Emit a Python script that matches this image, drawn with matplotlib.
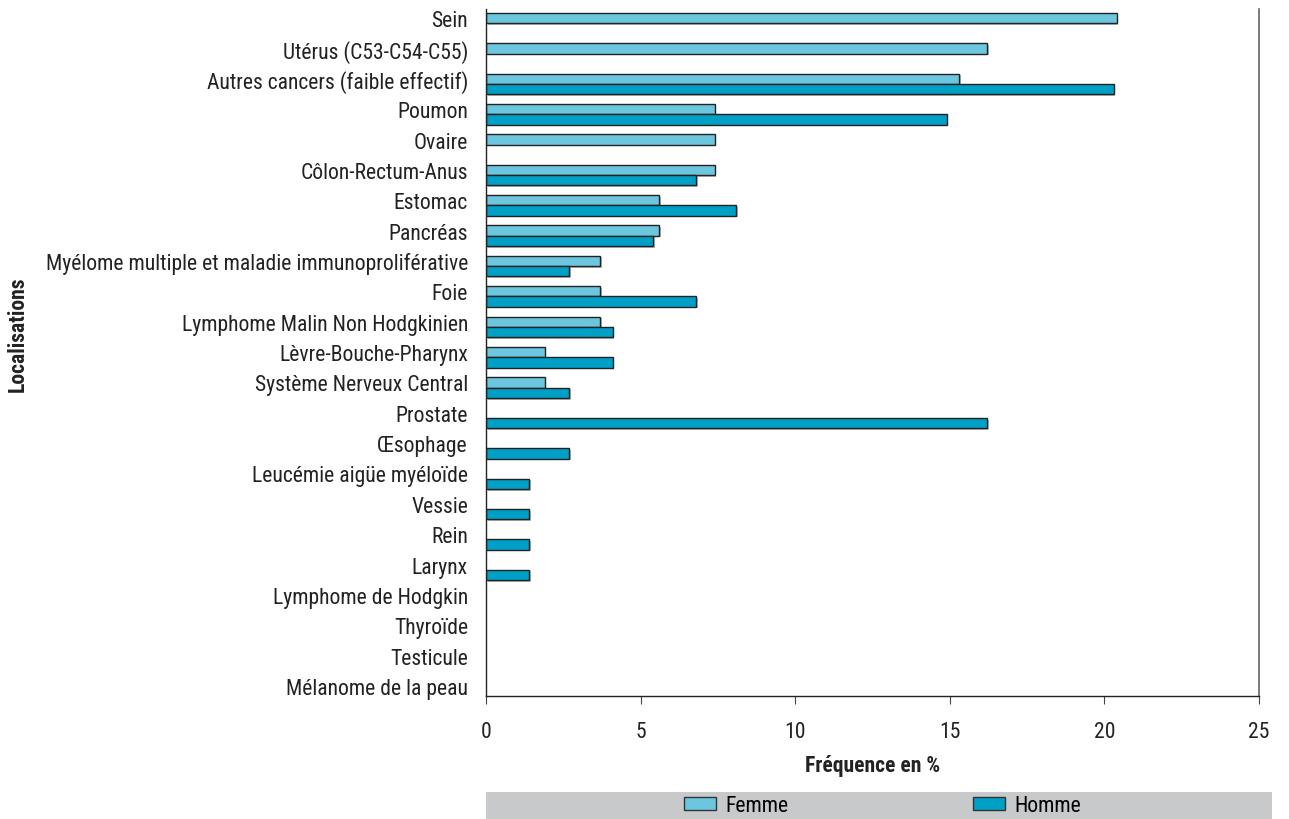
import matplotlib
matplotlib.use("Agg")
import matplotlib.pyplot as plt
import matplotlib.patheffects as pe
from matplotlib.patches import Rectangle, Patch
from matplotlib import font_manager as fm

names = {f.name for f in fm.fontManager.ttflist}
fam = "Liberation Sans"
for cand in ["Roboto Condensed", "Archivo Narrow", "PT Sans Narrow", "IBM Plex Sans Condensed",
             "Liberation Sans Narrow"]:
    if cand in names:
        fam = cand
        break
plt.rcParams['font.family'] = [fam, 'DejaVu Sans']

categories = [
    "Sein", "Utérus (C53-C54-C55)", "Autres cancers (faible effectif)", "Poumon",
    "Ovaire", "Côlon-Rectum-Anus", "Estomac", "Pancréas",
    "Myélome multiple et maladie immunoproliférative", "Foie",
    "Lymphome Malin Non Hodgkinien", "Lèvre-Bouche-Pharynx",
    "Système Nerveux Central", "Prostate", "Œsophage", "Leucémie aigüe myéloïde",
    "Vessie", "Rein", "Larynx", "Lymphome de Hodgkin", "Thyroïde", "Testicule",
    "Mélanome de la peau",
]
femme = [20.4, 16.2, 15.3, 7.4, 7.4, 7.4, 5.6, 5.6, 3.7, 3.7, 3.7, 1.9, 1.9,
         None, None, None, None, None, None, None, None, None, None]
homme = [None, None, 20.3, 14.9, None, 6.8, 8.1, 5.4, 2.7, 6.8, 4.1, 4.1, 2.7,
         16.2, 2.7, 1.4, 1.4, 1.4, 1.4, None, None, None, None]
series_names = ["Femme", "Homme"]
colors = ["#6cc6de", "#00a0c6"]
xticks = [0, 5, 10, 15, 20, 25]

fig = plt.figure(figsize=(12.89, 8.20), dpi=100)

# fit font size so the longest label matches the reference width (~423 px)
renderer = fig.canvas.get_renderer()
probe = fig.text(0, 0, max(categories, key=len), fontsize=15)
w = probe.get_window_extent(renderer).width
probe.remove()
fs = max(12.0, min(17.5, 15 * 423 / w))
fs_px = fs * 100 / 72

ax = fig.add_axes([486/1289, 1 - 697/820, (1259 - 486)/1289, (697 - 10)/820])

h = 0.34
shadow = [pe.SimplePatchShadow(offset=(1.2, -1.2), shadow_rgbFace='#888888', alpha=0.6), pe.Normal()]
for i, (f, m) in enumerate(zip(femme, homme)):
    if f is not None:
        b = ax.barh(i, f, height=h, color=colors[0], edgecolor='#222222', linewidth=1.0)
        for p in b:
            p.set_path_effects(shadow)
    if m is not None:
        b = ax.barh(i + h, m, height=h, color=colors[1], edgecolor='#222222', linewidth=1.0)
        for p in b:
            p.set_path_effects(shadow)

ax.set_ylim(len(categories) - 1 + 0.33, -0.3)
ax.set_xlim(0, 25)
ax.set_yticks(range(len(categories)))
ax.set_yticklabels(categories, fontsize=fs, color='#222222')
ax.tick_params(axis='y', length=0, pad=13)
ax.set_xticks(xticks)
ax.set_xticklabels([str(t) for t in xticks], fontsize=fs, color='#222222')
ax.tick_params(axis='x', length=6, width=0.8, pad=12, color='#444444')

ax.spines['top'].set_visible(False)
for s in ['left', 'bottom']:
    ax.spines[s].set_color('#222222')
    ax.spines[s].set_linewidth(1.0)
ax.spines['right'].set_color('#666666')
ax.spines['right'].set_linewidth(1.2)

ax.set_xlabel("Fréquence en %", fontsize=fs, fontweight='bold', labelpad=9, color='#222222')
fig.text(18/1289, 1 - 334/820, "Localisations", rotation=90, fontsize=fs, fontweight='bold',
         ha='center', va='center', color='#222222')

# legend band
fig.patches.append(Rectangle((486/1289, 0), (1272 - 486)/1289, 27/820,
                             transform=fig.transFigure, facecolor='#c8c9cb', edgecolor='none', zorder=0))
handles = [Patch(facecolor=c, edgecolor='#333333', linewidth=1.0, label=n) for c, n in zip(colors, series_names)]
probe = fig.text(0, 0, series_names[0], fontsize=fs)
wf = probe.get_window_extent(renderer).width
probe.remove()
gap = 973 - (725 + wf)
fig.legend(handles=handles, loc='center left', bbox_to_anchor=(684/1289, 13.5/820), ncol=2, frameon=False,
           fontsize=fs, handlelength=32/fs_px, handleheight=12/fs_px, columnspacing=gap/fs_px,
           handletextpad=9/fs_px, borderpad=0, borderaxespad=0)

fig.savefig("out.png", dpi=100)
